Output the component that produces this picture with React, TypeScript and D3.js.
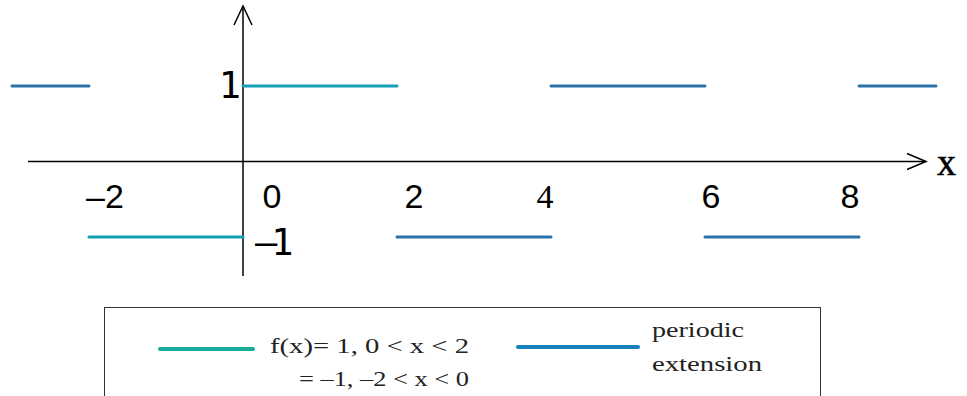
import React from "react";
import * as d3 from "d3";

// Square wave f(x) on (-2, 2) and its periodic extension
const baseSegments = [
  { x0: 0, x1: 2, y: 1 },
  { x0: -2, x1: 0, y: -1 },
];
const extensionSegments = [
  { x0: -3, x1: -2, y: 1 },
  { x0: 2, x1: 4, y: -1 },
  { x0: 4, x1: 6, y: 1 },
  { x0: 6, x1: 8, y: -1 },
  { x0: 8, x1: 9, y: 1 },
];
const xTickValues = [-2, 0, 2, 4, 6, 8];
const xTickLabels = ["\u20132", "0", "2", "4", "6", "8"];
const yTickValues = [1, -1];
const yTickLabels = ["1", "\u20131"];
const legendLines = ["f(x)= 1,  0 < x < 2", "= \u20131, \u20132 < x < 0"];
const extensionLabel = ["periodic", "extension"];

// label placement nudges (px), relative to each tick position
const xTickNudge = [16, 29, 17, -6, 6, -9];
const xTickFont = ["Liberation Sans", "Liberation Sans", "Liberation Sans", "Liberation Serif", "Liberation Sans", "Liberation Sans"];

const W = 967;
const H = 396;
const BASE = "#12a0b3";
const EXT = "#2b72a9";

export default function App() {
  const x = d3.scaleLinear().domain([0, 8]).range([243, 859]);
  const y = d3.scaleLinear().domain([-1, 1]).range([237, 86]);
  const x0 = x(0);
  const y0 = y(0);
  const line = d3.line<[number, number]>();

  const seg = (s: { x0: number; x1: number; y: number }, color: string, i: number) => (
    <path
      key={i}
      d={line([
        [x(s.x0), y(s.y)],
        [x(s.x1), y(s.y)],
      ]) as string}
      stroke={color}
      strokeWidth={3}
      strokeLinecap="round"
      fill="none"
    />
  );

  return (
    <svg
      width={W}
      height={H}
      style={{ position: "absolute", left: 0, top: 0, background: "#fff" }}
    >
      {/* axes */}
      <g stroke="#000" strokeWidth={1.5} fill="none">
        <line x1={28} y1={y0} x2={926} y2={y0} />
        <path d={`M${907},${y0 - 8} L${926},${y0} L${907},${y0 + 8}`} />
        <line x1={x0} y1={6} x2={x0} y2={276} />
        <path d={`M${x0 - 9},${25} L${x0},${6} L${x0 + 9},${25}`} />
      </g>
      <text x={937} y={175} fontFamily="Liberation Serif" fontSize={38} fill="#000" stroke="#000" strokeWidth={0.6}>
        x
      </text>

      {/* tick labels */}
      {xTickValues.map((v, i) => (
        <text
          key={v}
          x={x(v) + xTickNudge[i]}
          y={208}
          textAnchor="middle"
          fontFamily={xTickFont[i]}
          fontSize={34}
          fill="#000"
        >
          {xTickLabels[i]}
        </text>
      ))}
      <text x={x0 - 2} y={y(yTickValues[0]) + 12} textAnchor="end" fontFamily="DejaVu Sans Mono" fontSize={37} fill="#000">
        {yTickLabels[0]}
      </text>
      <text x={x0 + 12} y={y(yTickValues[1]) + 18} fontFamily="DejaVu Sans Mono" fontSize={37} letterSpacing={-6} fill="#000">
        {yTickLabels[1]}
      </text>

      {/* segments */}
      {extensionSegments.map((s, i) => seg(s, EXT, i))}
      {baseSegments.map((s, i) => seg(s, BASE, i + 100))}

      {/* legend */}
      <rect x={104.5} y={307.5} width={716} height={100} fill="#fff" stroke="#333" strokeWidth={1} />
      <line x1={160} y1={349} x2={253} y2={349} stroke="#17ad98" strokeWidth={4} strokeLinecap="round" />
      <text x={270} y={353} fontFamily="Liberation Serif" fontSize={21} textLength={199} lengthAdjust="spacingAndGlyphs" fill="#222">
        {legendLines[0]}
      </text>
      <text x={299} y={386} fontFamily="Liberation Serif" fontSize={21} textLength={170} lengthAdjust="spacingAndGlyphs" fill="#222">
        {legendLines[1]}
      </text>
      <line x1={518} y1={347} x2={638} y2={347} stroke="#1882bd" strokeWidth={4} strokeLinecap="round" />
      <text x={652} y={337} fontFamily="Liberation Serif" fontSize={21} textLength={92} lengthAdjust="spacingAndGlyphs" fill="#222">
        {extensionLabel[0]}
      </text>
      <text x={652} y={371} fontFamily="Liberation Serif" fontSize={21} textLength={110} lengthAdjust="spacingAndGlyphs" fill="#222">
        {extensionLabel[1]}
      </text>
    </svg>
  );
}
